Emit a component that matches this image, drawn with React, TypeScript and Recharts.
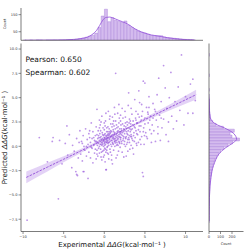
import React from "react";
import { ComposedChart, Scatter, Line, Area, Bar, XAxis, YAxis } from "recharts";

const expPred: [number, number][] = [
  [-9.5, -7.6], [-8.0, 0.9], [-6.4, 0.5], [-6.3, 0.9], [-5.65, -5.4], [-7.0, -1.6],
  [-5.2, -1.8], [-4.8, 0.3], [-4.5, -0.9], [-4.3, 1.2], [-4.0, -2.2], [-3.9, 0.1], [-3.7, -0.5],
  [-3.5, -2.6], [-3.4, 0.8], [-3.3, -3.0], [-3.2, -1.2], [-3.1, 0.4], [-3.0, 1.6], [-5.5, 0.6], [-4.6, 2.1],
  [-2.9, -0.8], [-2.8, 0.5], [-2.7, -1.5], [-2.6, 1.1], [-2.5, -2.6], [-2.5, 0.0], [-2.4, -0.4], [-2.3, 1.8],
  [-2.2, -1.0], [-2.1, 0.7], [-2.0, -3.3], [-2.0, 0.2], [-1.9, -0.6], [-1.9, 1.3], [-1.8, 0.9], [-1.7, -1.2],
  [-1.7, 0.4], [-1.6, 2.4], [-1.5, -0.2], [-1.5, 0.8], [-1.4, -1.7], [-1.4, 1.5], [-1.3, 0.1], [-1.2, -0.7],
  [-1.2, 0.6], [-1.1, 1.1], [-1.1, -0.3], [-1.0, 0.3], [-1.0, 2.0], [-1.0, -1.3],
  [-0.95, 0.5], [-0.9, -0.4], [-0.9, 1.2], [-0.85, 0.1], [-0.8, 0.8], [-0.8, -1.0], [-0.75, 1.6], [-0.7, 0.3],
  [-0.7, -0.2], [-0.65, 0.9], [-0.6, 0.6], [-0.6, -0.7], [-0.55, 1.3], [-0.5, 0.2], [-0.5, 2.2], [-0.45, -0.3],
  [-0.4, 0.7], [-0.4, 1.0], [-0.35, 0.4], [-0.3, -1.4], [-0.3, 0.1], [-0.25, 1.4], [-0.2, 0.8], [-0.2, -0.5],
  [-0.15, 0.5], [-0.1, 1.1], [-0.1, 0.0], [-0.05, 0.6], [0.0, -0.9], [0.0, 0.3], [0.0, 1.7], [0.05, 0.9],
  [0.05, -0.2], [0.1, 0.5], [0.1, 1.3], [0.15, 0.2], [0.15, 2.6], [0.2, 0.7], [0.2, -0.6], [0.25, 1.0],
  [0.25, -2.4], [0.3, 0.4], [0.3, 1.5], [0.35, -0.1], [0.35, 0.8], [0.4, 1.2], [0.4, 0.0], [0.45, 0.6],
  [0.45, 2.0], [0.5, -0.8], [0.5, 0.9], [-0.3, 3.1], [0.2, 3.4], [-0.6, 2.7], [0.1, -1.6], [-0.15, 1.9],
  [0.35, 1.1], [0.05, 0.4], [-0.4, -1.1], [0.45, 0.3], [-0.9, 3.8], [0.0, 0.9], [0.3, 0.65], [-0.25, 0.35],
  [0.55, 1.1], [0.6, 0.4], [0.6, 1.8], [0.65, 0.7], [0.7, -0.3], [0.7, 1.3], [0.75, 0.9], [0.8, 2.3],
  [0.8, 0.2], [0.85, 1.0], [0.9, 1.5], [0.9, -0.9], [0.95, 0.6], [1.0, 1.2], [1.0, 3.0], [1.05, 0.3],
  [1.1, 0.9], [1.1, 1.7], [1.15, -0.4], [1.2, 1.1], [1.2, 2.1], [1.25, 0.5], [1.3, 1.4], [1.3, 0.0],
  [1.35, 0.8], [1.4, 2.6], [1.4, 1.0], [1.45, -1.2], [1.5, 1.3], [1.5, 0.6], [1.55, 1.9], [1.6, 0.2],
  [1.6, 1.1], [1.65, 3.4], [1.7, 0.8], [1.7, 1.6], [1.75, -0.5], [1.8, 1.2], [1.8, 2.4], [1.85, 0.4],
  [1.9, 1.0], [1.9, 1.8], [1.95, -0.1], [2.0, 1.4], [2.0, 0.7], [0.65, 2.8], [1.0, -1.8], [1.25, 4.0],
  [1.4, 7.5], [0.9, 0.0], [1.55, 0.9], [1.15, 1.5], [0.75, 1.4], [1.85, 2.9], [1.35, 0.35], [0.55, -1.3],
  [1.7, 0.1], [1.05, 2.3], [1.95, 0.9], [0.8, 1.0], [1.2, 0.7], [0.6, 1.2], [1.5, 0.1], [1.0, 0.8],
  [2.05, 2.2], [2.1, 0.5], [2.15, 1.6], [2.2, -0.6], [2.25, 1.1], [2.3, 2.9], [2.35, 0.8], [2.4, 1.8],
  [2.45, 0.2], [2.5, 1.3], [2.55, 3.6], [2.6, 0.9], [2.65, 2.0], [2.7, -1.0], [2.75, 1.5], [2.8, 2.5],
  [2.85, 0.4], [2.9, 1.2], [2.95, 4.2], [3.0, 1.9], [3.05, 0.7], [3.1, 2.8], [3.15, -0.3], [3.2, 1.5],
  [3.25, 2.3], [3.3, 0.1], [3.35, 1.0], [3.4, 3.3], [3.45, 1.8], [3.5, 0.6], [3.55, 2.6], [3.6, -0.8],
  [3.65, 1.4], [3.7, 2.0], [3.75, 4.8], [3.8, 0.9], [3.85, 2.9], [3.9, 1.6], [3.95, 0.3], [4.0, 2.4],
  [2.4, -1.1], [3.0, 5.5], [2.2, 3.9], [3.3, 1.2], [2.7, 1.0], [2.1, 1.2], [2.6, 0.0], [3.1, 1.1],
  [4.1, 1.2], [4.15, 3.3], [4.2, 0.4], [4.3, 2.1], [4.35, 4.5], [4.4, 1.5], [4.5, 0.2], [4.55, 2.7],
  [4.6, 1.0], [4.7, 3.6], [4.7, -2.7], [4.8, -3.1], [4.8, 6.7], [4.85, 1.9], [4.9, 0.2], [5.0, 6.5],
  [5.0, 2.9], [5.1, 1.4], [5.2, 4.0], [5.3, 0.8], [5.4, 2.4], [5.5, 5.1], [5.6, 1.7], [5.7, 3.1],
  [5.8, 0.4], [5.9, 2.2], [6.0, 4.4], [4.25, 5.7], [5.35, 3.5], [4.95, 1.1],
  [6.1, 1.6], [6.2, 3.8], [6.3, 0.5], [6.4, 2.7], [6.5, 5.3], [6.6, 2.0], [6.8, 3.2], [6.9, 0.6],
  [7.0, 4.6], [7.1, 1.9], [7.3, 8.3], [7.3, 2.8], [7.5, 6.0], [7.6, 1.2], [7.7, 3.9], [7.9, 2.5],
  [8.0, 5.0], [6.7, 7.0], [7.9, 0.5],
  [8.2, 7.6], [8.3, 3.1], [8.5, 1.8], [8.7, 4.6], [8.9, 2.6], [9.1, 6.1], [9.3, 3.7], [9.5, 9.4],
  [9.8, 2.2], [10.0, 5.1], [10.3, 3.4], [10.6, 6.4], [10.9, 6.9], [10.9, 3.4], [11.2, 4.7], [0.2, -2.4],
  [-2.6, -2.6], [-3.4, -2.9],
  // denser core
  [-0.8, 0.4], [-0.7, 1.1], [-0.6, 0.0], [-0.5, 0.9], [-0.45, 1.6], [-0.4, 0.2], [-0.35, -0.6], [-0.3, 0.7],
  [-0.2, 1.2], [-0.2, 0.2], [-0.1, 0.6], [-0.05, -0.4], [0.0, 1.2], [0.05, 0.1], [0.1, 0.8], [0.1, 2.1],
  [0.15, -0.3], [0.2, 1.1], [0.25, 0.4], [0.3, -0.4], [0.3, 1.9], [0.35, 0.5], [0.4, 0.9], [0.4, -0.7],
  [0.45, 1.5], [0.5, 0.4], [0.5, 1.3], [0.55, 0.1], [0.6, 0.8], [0.65, 1.5], [0.7, 0.5], [0.75, -0.6],
  [0.8, 1.6], [0.85, 0.6], [0.9, 1.1], [0.95, 2.0], [1.0, 0.4], [1.05, 1.0], [1.1, 0.2], [1.15, 2.6],
  [1.2, 0.8], [1.25, 1.3], [1.3, 0.5], [1.35, 1.8], [1.4, 0.6], [1.45, 1.2], [1.5, 2.2], [1.55, 0.4],
  [1.6, 1.5], [1.65, 0.7], [1.7, 2.0], [1.75, 1.0], [1.8, 0.5], [1.85, 1.5], [1.9, 0.3], [1.95, 1.3],
  [2.0, 2.6], [2.05, 0.9], [2.1, 1.8], [2.15, 0.3], [2.2, 1.4], [2.25, 2.3], [2.3, 0.6], [2.35, 1.5],
  [2.4, 1.0], [2.45, 2.1], [2.5, 0.5], [2.55, 1.6], [2.6, 2.4], [2.65, 0.8], [2.7, 1.8], [2.75, 0.2],
  [2.8, 1.3], [2.85, 2.2], [2.9, 0.7], [2.95, 1.6], [3.0, 0.9], [3.05, 2.4], [3.1, 0.4], [3.15, 1.8],
  [3.2, 2.6], [3.25, 1.0], [3.3, 1.7], [3.4, 0.8], [3.5, 2.2], [3.6, 1.1], [3.7, 0.5], [3.8, 1.9],
  [3.9, 2.7], [4.0, 1.3], [4.1, 2.4], [4.2, 1.7], [4.3, 3.0], [4.4, 0.7], [4.5, 2.1], [4.6, 3.1],
  [4.8, 1.5], [5.0, 2.3], [5.2, 1.0], [5.4, 3.3], [5.6, 2.7], [5.8, 1.3], [6.0, 2.9], [6.3, 3.6],
  [6.6, 1.3], [7.0, 2.9], [-1.3, 0.9], [-1.6, -0.1], [-1.8, 1.6], [-2.2, 0.0], [-2.7, 0.3], [-0.9, -0.8],
  [-1.1, 0.5], [-0.6, 1.9], [0.0, 2.4], [0.7, 3.1], [1.3, 3.3], [2.0, 3.2], [2.6, 3.0], [3.3, 3.9],
  [3.9, 3.6], [4.6, 4.3], [5.5, 4.0], [1.8, 4.3], [0.5, 3.6], [-0.4, 2.5], [2.9, -0.5], [3.5, -0.2],
  [4.0, 0.1], [1.6, -0.9], [0.9, -1.4], [-0.1, -1.1],
];

// regression fit and its confidence band
const fitX = [-9.6, -7, -5, -2.5, 0, 1.5, 3, 5, 8, 11.3];
const fitY = [-3.2, -2.14, -1.33, -0.31, 0.71, 1.32, 1.93, 2.75, 3.97, 5.31];
const bandLo = [-3.8, -2.6, -1.65, -0.5, 0.6, 1.24, 1.83, 2.57, 3.67, 4.81];
const bandHi = [-2.6, -1.68, -1.01, -0.12, 0.82, 1.4, 2.03, 2.93, 4.27, 5.81];

// top marginal histogram (experimental), bin centres and counts
const topBins = [
  -9.78, -9.38, -8.98, -8.58, -8.18, -7.78, -7.38, -6.98, -6.58, -6.18, -5.78, -5.38, -4.98, -4.58,
  -4.18, -3.78, -3.38, -2.98, -2.58, -2.18, -1.78, -1.38, -0.98, -0.58, -0.18, 0.22, 0.62, 1.02,
  1.42, 1.82, 2.22, 2.62, 3.02, 3.42, 3.82, 4.22, 4.62, 5.02, 5.42, 5.82, 6.22, 6.62, 7.02, 7.42,
  7.82, 8.22, 8.62, 9.02, 9.42, 9.82, 10.22, 10.62, 11.02,
];
const topCounts = [
  1, 0, 1, 0, 2, 1, 0, 1, 1, 2, 1, 2, 2, 3, 4, 5, 7, 10, 14, 18, 24, 30, 42, 75, 142, 182, 109, 132,
  117, 110, 105, 113, 88, 75, 64, 55, 47, 42, 35, 28, 27, 26, 27, 19, 15, 14, 12, 10, 8, 6, 5, 4, 3,
];
// kde read at a subset of the bin centres
const topKdeX = [
  -9.78, -5.78, -3.78, -2.98, -1.78, -1.38, -0.98, -0.58, -0.18, 0.22, 0.62, 1.02, 1.42, 1.82, 2.22,
  2.62, 3.02, 3.42, 3.82, 4.22, 4.62, 5.02, 5.42, 5.82, 6.22, 6.62, 7.02, 7.42, 7.82, 8.22, 8.62,
  9.02, 9.42, 9.82, 10.22, 10.62, 11.02,
];
const topKdeY = [
  0.5, 1.6, 5, 9, 25, 38, 56, 86, 118, 134, 136, 132, 124, 116, 109, 101, 91, 78, 66, 56, 48, 42,
  36, 31, 28, 25, 22, 18.5, 15, 12.5, 10, 8, 6, 4.5, 3.5, 2.5, 1.8,
];

// right marginal histogram (predicted), bin centres and counts
const rightBins = [
  -7.6, -7.3, -7.0, -6.7, -6.4, -6.1, -5.8, -5.5, -5.2, -4.9, -4.6, -4.3, -4.0, -3.7, -3.4, -3.1,
  -2.8, -2.5, -2.2, -1.9, -1.6, -1.3, -1.0, -0.7, -0.4, -0.1, 0.2, 0.5, 0.8, 1.1, 1.4, 1.7, 2.0,
  2.3, 2.6, 2.9, 3.2, 3.5, 3.8, 4.1, 4.4, 4.7, 5.0, 5.3, 5.6, 5.9, 6.2, 6.5, 6.8, 7.1, 7.4, 7.7,
  8.0, 8.3, 8.6, 8.9, 9.2, 9.5,
];
const rightCounts = [
  1, 0, 0, 0, 0, 0, 0, 1, 0, 0, 0, 0, 1, 0, 1, 2, 2, 3, 3, 5, 7, 10, 14, 32, 62, 125, 220, 183, 200,
  265, 205, 165, 130, 100, 82, 66, 52, 42, 34, 28, 23, 19, 15, 12, 9, 7, 6, 5, 4, 3, 3, 2, 2, 1,
  1, 1, 1, 1,
];
const rightKdeY = [-3.1, -1.9, -1.3, -1.0, -0.4, -0.1, 0.5, 1.1, 1.4, 2.0, 2.6, 2.9, 3.5, 4.1, 4.4, 5.0, 5.9, 7.1, 8.0, 8.9, 9.5];
const rightKdeX = [1, 4, 9, 15, 70, 130, 215, 240, 215, 140, 86, 70, 48, 31, 25, 17, 9, 3.5, 2, 1, 0.6];

const xTicks = [-10, -5, 0, 5, 10];
const yTicks = [-7.5, -5, -2.5, 0, 2.5, 5, 7.5, 10];

const PURPLE = "#9a5bdc";
const HIST_FILL = "#d4bbee";
const HIST_EDGE = "#a57ad8";
const FONT = "DejaVu Sans";
const X_DOM: [number, number] = [-10.25, 12.15];
const Y_DOM: [number, number] = [-8.76, 10.57];
const tickStyle = { fontSize: 3.6, fill: "#333", fontFamily: FONT };
const axisLine = { stroke: "#444", strokeWidth: 0.7 };
const tickLine = { stroke: "#444", strokeWidth: 0.6 };
const minus = (v: number, d: number) => v.toFixed(d).replace("-", "\u2212");

const points = expPred.map(([x, y]) => ({ x, y }));
const fitLine = fitX.map((x, i) => ({ x, y: fitY[i] }));
const band = fitX.map((x, i) => ({ x, band: [bandLo[i], bandHi[i]] }));
const topHist = topBins.map((x, i) => ({ x, count: topCounts[i] }));
const topKde = topKdeX.map((x, i) => ({ x, count: topKdeY[i] }));
const rightHist = rightBins.map((y, i) => ({ y, count: rightCounts[i] }));
const rightKde = rightKdeY.map((y, i) => ({ y, count: rightKdeX[i] }));

const Dot = (p: any) => <circle cx={p.cx} cy={p.cy} r={0.9} fill={PURPLE} fillOpacity={0.66} />;

export default function App() {
  const box: React.CSSProperties = { position: "absolute", left: 0, top: 0 };
  return (
    <div style={{ position: "absolute", left: 0, top: 0, width: 249, height: 249, background: "#fff" }}>
      {/* main scatter */}
      <div style={box}>
        <ComposedChart width={249} height={249} margin={{ top: 43.5, right: 46, bottom: 0, left: 0 }}>
          <XAxis type="number" dataKey="x" domain={X_DOM} allowDataOverflow ticks={xTicks} height={17.5}
            tick={tickStyle} tickSize={2.5} tickMargin={1} axisLine={axisLine} tickLine={tickLine}
            tickFormatter={(v: number) => minus(v, 0)} />
          <YAxis type="number" dataKey="y" domain={Y_DOM} allowDataOverflow ticks={yTicks} width={21}
            tick={tickStyle} tickSize={2.5} tickMargin={1} axisLine={axisLine} tickLine={tickLine}
            tickFormatter={(v: number) => minus(v, 1)} />
          <Scatter data={points} dataKey="y" shape={Dot} isAnimationActive={false} />
          <Area data={band} dataKey="band" type="monotone" stroke="none" fill="#b07ee6" fillOpacity={0.35} isAnimationActive={false} />
          <Line data={fitLine} dataKey="y" type="linear" stroke={PURPLE} strokeWidth={1} strokeDasharray="2.5 1.2" dot={false} isAnimationActive={false} />
        </ComposedChart>
      </div>
      {/* top marginal */}
      <div style={box}>
        <ComposedChart width={249} height={249} data={topHist} barCategoryGap={0} barGap={0}
          margin={{ top: 8, right: 46, bottom: 205.7, left: 0 }}>
          <XAxis type="number" dataKey="x" domain={X_DOM} allowDataOverflow ticks={xTicks} height={3}
            tick={false} tickSize={2.5} axisLine={axisLine} tickLine={tickLine} />
          <YAxis type="number" domain={[0, 189]} allowDataOverflow ticks={[0, 50, 100, 150]} width={21}
            tick={tickStyle} tickSize={2.5} tickMargin={1} axisLine={axisLine} tickLine={tickLine} />
          <Bar dataKey="count" fill={HIST_FILL} stroke={HIST_EDGE} strokeWidth={0.4} isAnimationActive={false} />
          <Line data={topKde} dataKey="count" type="monotone" stroke={PURPLE} strokeWidth={0.9} dot={false} isAnimationActive={false} />
        </ComposedChart>
      </div>
      {/* right marginal */}
      <div style={box}>
        <ComposedChart width={249} height={249} data={rightHist} layout="vertical" barCategoryGap={0} barGap={0}
          margin={{ top: 43.5, right: 5.5, bottom: 0, left: 203 }}>
          <XAxis type="number" domain={[0, 300]} allowDataOverflow ticks={[0, 100, 200]} height={17.5}
            tick={tickStyle} tickSize={2.5} tickMargin={1} axisLine={axisLine} tickLine={tickLine} />
          <YAxis type="number" dataKey="y" domain={Y_DOM} allowDataOverflow ticks={yTicks} width={6}
            tick={false} tickSize={2.5} axisLine={axisLine} tickLine={tickLine} />
          <Bar dataKey="count" fill={HIST_FILL} stroke={HIST_EDGE} strokeWidth={0.4} isAnimationActive={false} />
          <Line data={rightKde} dataKey="count" type="monotone" stroke={PURPLE} strokeWidth={0.9} dot={false} isAnimationActive={false} />
        </ComposedChart>
      </div>
      {/* text overlay */}
      <svg width={249} height={249} style={{ ...box, pointerEvents: "none" }} fontFamily={FONT}>
        <text x={25.5} y={61.8} fontSize={7.5} fill="#111">Pearson: 0.650</text>
        <text x={25.5} y={75.3} fontSize={7.5} fill="#111">Spearman: 0.602</text>
        <text x={112} y={246.5} fontSize={7} fill="#111" textAnchor="middle">
          Experimental <tspan fontStyle="italic">ΔΔG</tspan>(kcal·mol⁻¹ )
        </text>
        <text x={7.3} y={137.5} fontSize={7} fill="#111" textAnchor="middle" transform="rotate(-90 7.3 137.5)">
          Predicted <tspan fontStyle="italic">ΔΔG</tspan>(kcal·mol⁻¹ )
        </text>
        <text x={6} y={24} fontSize={3.6} fill="#333" textAnchor="middle" transform="rotate(-90 6 24)">Count</text>
        <text x={226} y={245} fontSize={3.6} fill="#333" textAnchor="middle">Count</text>
      </svg>
    </div>
  );
}
